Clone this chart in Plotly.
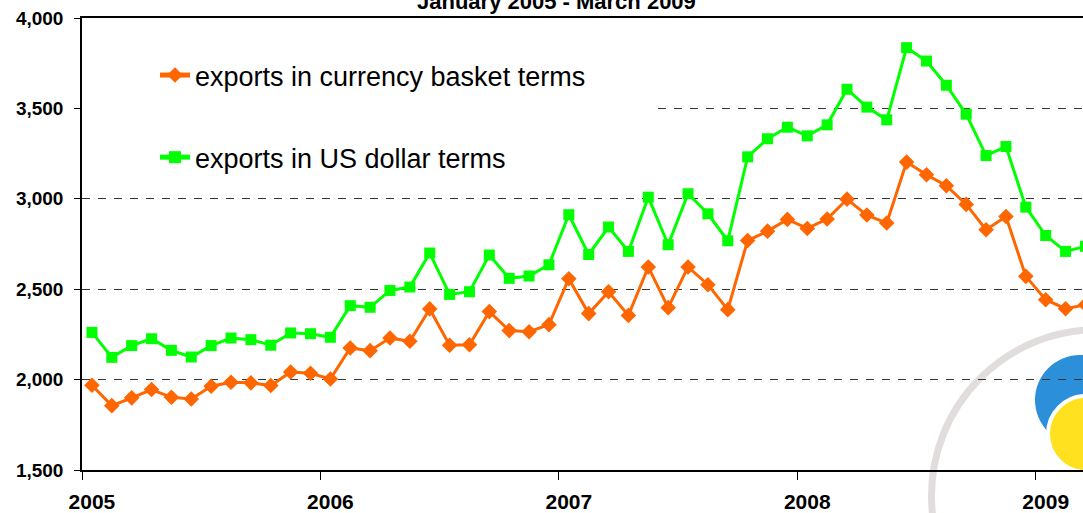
import plotly.graph_objects as go

# ---------------- data ----------------
months = [f"{y}-{m:02d}" for y in range(2005, 2010) for m in range(1, 13)][:51]  # Jan 2005 .. Mar 2009

basket = [1969, 1856, 1899, 1945, 1902, 1893, 1963, 1985, 1982, 1967, 2042, 2035,
          2003, 2175, 2160, 2230, 2212, 2391, 2190, 2193, 2376, 2271, 2265, 2304,
          2558, 2365, 2486, 2355, 2623, 2398, 2623, 2525, 2387, 2769, 2821, 2886,
          2836, 2888, 2998, 2910, 2866, 3203, 3133, 3072, 2969, 2829, 2902, 2571,
          2442, 2392, 2414]

usd = [2261, 2123, 2188, 2226, 2162, 2125, 2188, 2230, 2221, 2190, 2258, 2254,
       2234, 2409, 2400, 2493, 2512, 2700, 2471, 2486, 2689, 2560, 2573, 2635,
       2912, 2692, 2844, 2709, 3009, 2746, 3028, 2917, 2768, 3232, 3332, 3396,
       3348, 3409, 3606, 3507, 3437, 3836, 3762, 3628, 3468, 3239, 3289, 2954,
       2797, 2709, 2737]

year_labels = ["2005", "2006", "2007", "2008", "2009"]
y_ticks = [1500, 2000, 2500, 3000, 3500, 4000]

title_text = "January 2005 - March 2009"
name_basket = "exports in currency basket terms"
name_usd = "exports in US dollar terms"

# --------------- layout geometry ---------------
W, H = 1083, 513
ML, MR, MT, MB = 82, 0, 18, 43
PW, PH = W - ML - MR, H - MT - MB
month_px = 19.87

idx = list(range(len(months)))
year_pos = [months.index(f"{y}-01") for y in year_labels]

FONT = "Liberation Sans, Arial, sans-serif"
ORANGE = "#FF6600"
GREEN = "#00FF00"


def px_x(p):
    return (p - ML) / PW


def px_y(p):
    return (H - MB - p) / PH


fig = go.Figure()
fig.add_trace(go.Scatter(
    x=idx, y=basket, name=name_basket, mode="lines+markers", legendgroup="a",
    line=dict(color=ORANGE, width=3),
    marker=dict(symbol="diamond", size=12, color=ORANGE),
    text=months, hovertemplate="%{text}: %{y:,}<extra></extra>", cliponaxis=True))
fig.add_trace(go.Scatter(
    x=idx, y=usd, name=name_usd, mode="lines+markers", legendgroup="b",
    line=dict(color=GREEN, width=3),
    marker=dict(symbol="square", size=11, color=GREEN),
    text=months, hovertemplate="%{text}: %{y:,}<extra></extra>", cliponaxis=True))

x_right = -0.5 + PW / month_px

shapes = [
    # white legend background hiding the gridline behind the legend
    dict(type="rect", xref="x", yref="y", x0=-0.5, x1=-0.5 + (650 - ML) / month_px,
         y0=3300, y1=3800, fillcolor="white", line=dict(width=0), layer="between"),
    # watermark logo (grey ring, blue crescent, yellow ball)
    dict(type="circle", xref="paper", yref="paper",
         x0=px_x(1097.5 - 166), x1=px_x(1097.5 + 166),
         y0=px_y(495.7 + 166), y1=px_y(495.7 - 166),
         line=dict(color="#E2DDDD", width=7), fillcolor="rgba(0,0,0,0)", layer="below"),
    dict(type="circle", xref="paper", yref="paper",
         x0=px_x(1035), x1=px_x(1125), y0=px_y(445), y1=px_y(355),
         line=dict(width=0), fillcolor="#2C8FDA", layer="below"),
    dict(type="circle", xref="paper", yref="paper",
         x0=px_x(1048), x1=px_x(1124), y0=px_y(472), y1=px_y(396),
         line=dict(color="white", width=4), fillcolor="#FFE11F", layer="below"),
]

fig.update_layout(
    width=W, height=H, autosize=False,
    margin=dict(l=ML, r=MR, t=MT, b=MB, pad=0, autoexpand=False),
    paper_bgcolor="white", plot_bgcolor="rgba(0,0,0,0)",
    font=dict(family=FONT, color="black"),
    showlegend=True,
    legend=dict(x=px_x(155), y=px_y(51), xanchor="left", yanchor="top",
                bgcolor="rgba(0,0,0,0)", borderwidth=0,
                font=dict(family=FONT, size=27, color="black"),
                traceorder="grouped", tracegroupgap=44, itemsizing="constant"),
    shapes=shapes,
    annotations=[dict(text=title_text, xref="paper", yref="paper", x=px_x(556), y=1,
                      xanchor="center", yanchor="middle", yshift=17, showarrow=False,
                      font=dict(family=FONT, size=22, color="black", weight="bold"))],
)

fig.update_xaxes(
    range=[-0.5, x_right], tickmode="array", tickvals=year_pos, ticktext=year_labels,
    ticks="", showgrid=False, zeroline=False, automargin=False,
    showline=True, linecolor="black", linewidth=1.5, mirror=True,
    tickfont=dict(family=FONT, size=21, color="black", weight="bold"),
    ticklabelstandoff=12,
    minor=dict(tick0=-0.5, dtick=12, ticks="outside", ticklen=8, tickcolor="black", tickwidth=1, showgrid=False),
)
fig.update_yaxes(
    range=[1500, 4000], tickmode="array", tickvals=y_ticks, tickformat=",",
    ticks="outside", ticklen=6, tickcolor="black", automargin=False,
    showgrid=True, gridcolor="#333333", gridwidth=1, griddash="8px,8px",
    zeroline=False, showline=True, linecolor="black", linewidth=1.5,
    tickfont=dict(family=FONT, size=19, color="black", weight="bold"),
    ticklabelstandoff=7,
)

fig.write_html("out.html", config={"displayModeBar": False},
               post_script="document.body.style.margin='0px';")
